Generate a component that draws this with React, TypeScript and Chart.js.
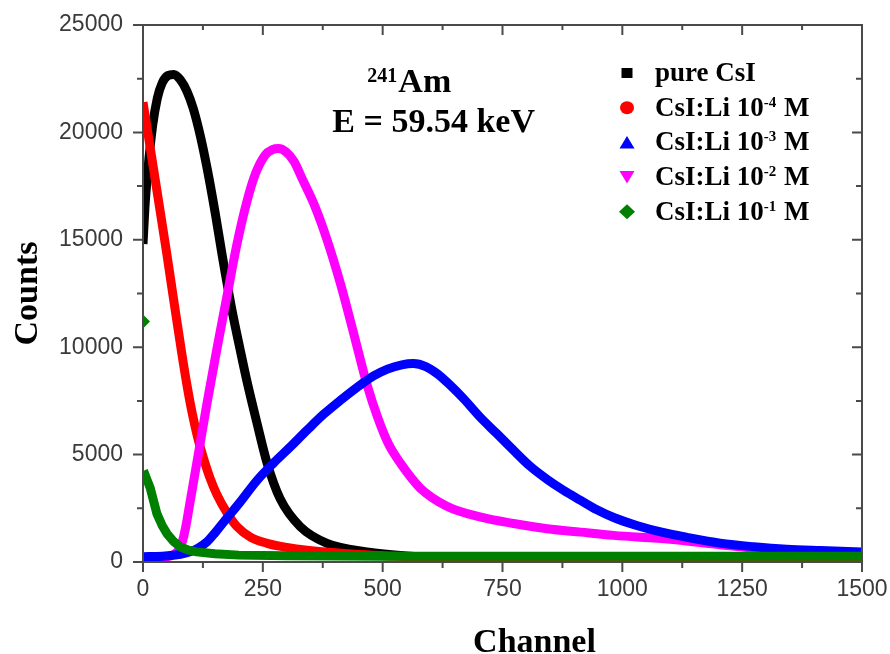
import React, { useEffect, useRef } from 'react';
import { Chart, registerables } from 'chart.js';

Chart.register(...registerables);

// ---- axis ticks ----
const xTickValues = [0, 250, 500, 750, 1000, 1250, 1500];
const xMinorTickValues = [125, 375, 625, 875, 1125, 1375];
const yTickValues = [0, 5000, 10000, 15000, 20000, 25000];
const yMinorTickValues = [2500, 7500, 12500, 17500, 22500];

// ---- series ----
const seriesLabels = ['pure CsI', 'CsI:Li 10⁻⁴ M', 'CsI:Li 10⁻³ M', 'CsI:Li 10⁻² M', 'CsI:Li 10⁻¹ M'];
const seriesColors = ['#000000', '#ff0000', '#0000ff', '#ff00ff', '#008000'];
const seriesMarkers = ['square', 'circle', 'triangle', 'triangleDown', 'diamond'];

const pureChannels = [0, 4, 10, 20, 30, 40, 52, 64, 78, 92, 105, 120, 134, 151, 165, 185, 203, 217, 238, 259, 286, 328, 384, 467, 550, 650, 800, 1000, 1250, 1500];
const pureCounts = [14800, 16500, 18200, 20300, 21600, 22300, 22650, 22700, 22450, 21900, 21100, 19800, 18300, 16200, 14300, 11800, 9850, 8400, 6450, 4600, 2950, 1650, 870, 470, 280, 190, 140, 120, 110, 100];

const li4Channels = [0, 10, 22, 36, 50, 64, 81, 92, 102, 114, 126, 140, 154, 175, 196, 225, 259, 300, 342, 450, 600, 800, 1000, 1500];
const li4Counts = [21400, 20000, 18300, 16300, 14300, 12200, 9700, 8200, 7000, 5800, 4850, 3900, 3150, 2300, 1650, 1150, 870, 680, 550, 350, 220, 150, 130, 100];

const li3Channels = [0, 40, 78, 98, 115, 134, 150, 168, 203, 238, 273, 307, 342, 377, 412, 446, 481, 510, 540, 564, 590, 615, 640, 669, 703, 738, 773, 808, 843, 878, 913, 947, 982, 1030, 1080, 1135, 1204, 1274, 1343, 1413, 1500];
const li3Counts = [250, 270, 360, 480, 650, 950, 1350, 1850, 2800, 3800, 4620, 5350, 6130, 6880, 7530, 8120, 8660, 8980, 9180, 9240, 9100, 8750, 8250, 7600, 6750, 5980, 5200, 4450, 3850, 3330, 2870, 2430, 2070, 1700, 1400, 1150, 880, 710, 590, 530, 470];

const li2Channels = [0, 40, 60, 72, 80, 88, 99, 116, 134, 154, 175, 196, 217, 235, 255, 270, 283, 298, 315, 333, 356, 384, 412, 440, 468, 490, 512, 537, 578, 634, 703, 773, 843, 913, 982, 1100, 1204, 1309, 1413, 1500];
const li2Counts = [200, 220, 300, 480, 800, 1500, 2900, 5100, 7450, 9900, 12350, 14800, 16800, 18100, 18950, 19200, 19250, 19100, 18650, 17800, 16700, 15000, 12950, 10600, 8200, 6700, 5500, 4600, 3450, 2600, 2100, 1790, 1550, 1390, 1240, 1060, 800, 560, 400, 300];

const li1Channels = [0, 1, 8, 15, 22, 29, 40, 50, 64, 78, 95, 112, 150, 200, 300, 500, 750, 1000, 1250, 1500];
const li1Counts = [11200, 4250, 3850, 3450, 2850, 2250, 1700, 1320, 950, 700, 550, 470, 380, 320, 290, 270, 270, 270, 270, 270];

// ---- texts ----
const xAxisTitle = 'Channel';
const yAxisTitle = 'Counts';
const annotationLines = ['²⁴¹Am', 'E = 59.54 keV'];
// anchor of each annotation line in data coordinates [channel, counts at baseline]
const annotationAnchors = [[468, 21880], [395, 20000]];

const AXIS_COLOR = '#4a4a4a';
const TICK_COLOR = '#3a3a3a';
const SERIF = '"Liberation Serif", "Times New Roman", serif';
const SANS = '"Liberation Sans", Arial, sans-serif';

const supMap: Record<string, string> = {
  '⁻': '-', '⁰': '0', '¹': '1', '²': '2', '³': '3', '⁴': '4',
  '⁵': '5', '⁶': '6', '⁷': '7', '⁸': '8', '⁹': '9',
};

function drawRichText(ctx: CanvasRenderingContext2D, text: string, x: number, y: number, size: number, supSize: number, supRise: number) {
  let cx = x;
  let i = 0;
  const chars = Array.from(text);
  while (i < chars.length) {
    const isSup = chars[i] in supMap;
    let run = '';
    while (i < chars.length && (chars[i] in supMap) === isSup) {
      run += isSup ? supMap[chars[i]] : chars[i];
      i++;
    }
    ctx.font = `bold ${isSup ? supSize : size}px ${SERIF}`;
    ctx.fillText(run, cx, isSup ? y - supRise : y);
    cx += ctx.measureText(run).width + (isSup ? 1 : 0);
  }
}

function drawMarker(ctx: CanvasRenderingContext2D, kind: string, x: number, y: number, color: string) {
  ctx.fillStyle = color;
  ctx.beginPath();
  if (kind === 'square') {
    ctx.rect(x - 5.5, y - 5, 11, 10);
  } else if (kind === 'circle') {
    ctx.ellipse(x, y, 7, 6.5, 0, 0, Math.PI * 2);
  } else if (kind === 'triangle') {
    ctx.moveTo(x, y - 6.5);
    ctx.lineTo(x + 7.5, y + 6);
    ctx.lineTo(x - 7.5, y + 6);
    ctx.closePath();
  } else if (kind === 'triangleDown') {
    ctx.moveTo(x, y + 6.5);
    ctx.lineTo(x + 7.5, y - 6);
    ctx.lineTo(x - 7.5, y - 6);
    ctx.closePath();
  } else {
    ctx.moveTo(x, y - 7.5);
    ctx.lineTo(x + 8, y);
    ctx.lineTo(x, y + 7.5);
    ctx.lineTo(x - 8, y);
    ctx.closePath();
  }
  ctx.fill();
}

const framePlugin = {
  id: 'frameTicks',
  afterDatasetsDraw(chart: any) {
    const { ctx, chartArea: a, scales } = chart;
    const xs = scales.x;
    const ys = scales.y;
    ctx.save();
    ctx.strokeStyle = AXIS_COLOR;
    ctx.lineWidth = 2;
    ctx.strokeRect(a.left, a.top, a.right - a.left, a.bottom - a.top);
    ctx.beginPath();
    xTickValues.forEach((v) => {
      const p = xs.getPixelForValue(v);
      ctx.moveTo(p, a.bottom); ctx.lineTo(p, a.bottom + 10);
      ctx.moveTo(p, a.top); ctx.lineTo(p, a.top + 10);
    });
    xMinorTickValues.forEach((v) => {
      const p = xs.getPixelForValue(v);
      ctx.moveTo(p, a.bottom); ctx.lineTo(p, a.bottom + 6);
      ctx.moveTo(p, a.top); ctx.lineTo(p, a.top + 5);
    });
    yTickValues.forEach((v) => {
      const p = ys.getPixelForValue(v);
      ctx.moveTo(a.left - 10, p); ctx.lineTo(a.left, p);
      ctx.moveTo(a.right - 10, p); ctx.lineTo(a.right, p);
    });
    yMinorTickValues.forEach((v) => {
      const p = ys.getPixelForValue(v);
      ctx.moveTo(a.left - 6, p); ctx.lineTo(a.left, p);
      ctx.moveTo(a.right - 6, p); ctx.lineTo(a.right, p);
    });
    ctx.stroke();
    ctx.restore();
  },
};

const textPlugin = {
  id: 'textDecor',
  afterDraw(chart: any) {
    const { ctx, chartArea: a, scales } = chart;
    ctx.save();
    ctx.fillStyle = '#000';
    ctx.textAlign = 'left';
    ctx.textBaseline = 'alphabetic';
    // annotation
    annotationLines.forEach((line, i) => {
      const [cx, cy] = annotationAnchors[i];
      ctx.fillStyle = '#000';
      drawRichText(ctx, line, scales.x.getPixelForValue(cx), scales.y.getPixelForValue(cy), 34, 20, 10);
    });
    // legend
    const mx = a.right - 235;
    chart.data.datasets.forEach((ds: any, i: number) => {
      const cy = a.top + 48 + i * 34.7;
      drawMarker(ctx, seriesMarkers[i], mx, cy, seriesColors[i]);
      ctx.fillStyle = '#000';
      drawRichText(ctx, ds.label, mx + 28, cy + 8, 27, 15, 9);
    });
    // x axis title
    ctx.font = `bold 34px ${SERIF}`;
    ctx.textAlign = 'center';
    ctx.fillStyle = '#000';
    ctx.fillText(xAxisTitle, (a.left + a.right) / 2 + 32, 652);
    ctx.restore();
  },
};

const pts = (xs: number[], ys: number[]) => xs.map((x, i) => ({ x, y: ys[i] }));

export default function App() {
  const ref = useRef<HTMLCanvasElement | null>(null);

  useEffect(() => {
    if (!ref.current) return;
    const base = (i: number, chs: number[], cnts: number[], order: number) => ({
      label: seriesLabels[i],
      data: pts(chs, cnts),
      borderColor: seriesColors[i],
      backgroundColor: seriesColors[i],
      borderWidth: 9,
      pointRadius: 0,
      fill: false,
      cubicInterpolationMode: 'monotone' as const,
      clip: 0,
      order,
    });
    const green = seriesColors[4];
    const datasets: any[] = [
      base(0, pureChannels, pureCounts, 4),
      base(1, li4Channels, li4Counts, 3),
      base(2, li3Channels, li3Counts, 1),
      base(3, li2Channels, li2Counts, 2),
      {
        ...base(4, li1Channels, li1Counts, 0),
        cubicInterpolationMode: 'default',
        tension: 0,
        pointRadius: (c: any) => (c.dataIndex === 0 ? 7 : 0),
        pointStyle: 'rectRot',
        pointBackgroundColor: green,
        pointBorderColor: green,
        pointBorderWidth: 0,
        segment: {
          borderColor: (c: any) => (c.p0DataIndex === 0 ? 'rgba(0,0,0,0)' : green),
        },
      },
    ];

    const chart = new Chart(ref.current, {
      type: 'line',
      data: { datasets },
      options: {
        responsive: false,
        animation: false,
        devicePixelRatio: 1,
        layout: { padding: { left: 0, right: 28, top: 25, bottom: 0 } },
        plugins: { legend: { display: false }, tooltip: { enabled: false } },
        scales: {
          x: {
            type: 'linear',
            min: 0,
            max: 1500,
            afterBuildTicks: (s: any) => { s.ticks = xTickValues.map((v) => ({ value: v })); },
            afterFit: (s: any) => { s.height = 92; s.paddingLeft = 0; s.paddingRight = 0; },
            ticks: {
              callback: (v: any) => String(v),
              font: { family: SANS, size: 23 },
              color: TICK_COLOR,
              padding: 4,
              maxRotation: 0,
              autoSkip: false,
            },
            grid: { display: true, drawOnChartArea: false, drawTicks: true, tickLength: 10, color: 'rgba(0,0,0,0)' },
            border: { display: false },
          },
          y: {
            type: 'linear',
            min: 0,
            max: 25000,
            afterBuildTicks: (s: any) => { s.ticks = yTickValues.map((v) => ({ value: v })); },
            afterFit: (s: any) => { s.width = 143; s.paddingTop = 0; s.paddingBottom = 0; },
            ticks: {
              callback: (v: any) => String(v),
              font: { family: SANS, size: 23 },
              color: TICK_COLOR,
              padding: 10,
              autoSkip: false,
            },
            grid: { display: true, drawOnChartArea: false, drawTicks: true, tickLength: 10, color: 'rgba(0,0,0,0)' },
            border: { display: false },
            title: {
              display: true,
              text: yAxisTitle,
              color: '#000',
              font: { family: SERIF, size: 34, weight: 'bold', lineHeight: 0.8 },
              padding: { top: 15, bottom: 0 },
            },
          },
        },
      },
      plugins: [framePlugin, textPlugin],
    } as any);
    return () => chart.destroy();
  }, []);

  return (
    <div style={{ position: 'absolute', left: 0, top: 0, width: 890, height: 654, background: '#fff' }}>
      <canvas ref={ref} width={890} height={654} style={{ display: 'block', width: 890, height: 654 }} />
    </div>
  );
}
